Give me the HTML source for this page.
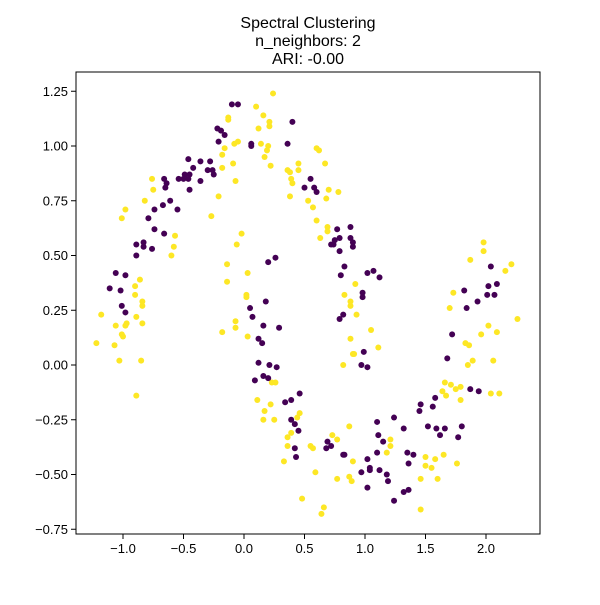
<!DOCTYPE html>
<html><head><meta charset="utf-8"><style>
html,body{margin:0;padding:0;background:#fff;}
svg text{font-family:"Liberation Sans","DejaVu Sans",sans-serif;fill:#000;}
</style></head><body>
<svg id="chart" width="600" height="600" viewBox="0 0 600 600" xmlns="http://www.w3.org/2000/svg">
<rect width="600" height="600" fill="#fff"/>
<g font-size="16" text-anchor="middle">
<text x="308" y="28">Spectral Clustering</text>
<text x="308" y="46">n_neighbors: 2</text>
<text x="308" y="64">ARI: -0.00</text>
</g>
<g id="points"></g>
<g id="axes"></g>
</svg>
<script>
const purpleX=[-0.10,-0.05,-0.22,-0.19,-0.16,-0.21,0.06,0.06,0.40,0.36,-0.46,-0.36,-0.28,-0.42,-0.30,-0.26,-0.25,-0.49,-0.45,-0.54,-0.50,-0.46,-0.36,-0.66,-0.64,-0.65,-0.45,-0.61,-0.67,-0.74,-0.55,-0.79,-0.74,-0.66,-0.89,-0.83,-0.83,-0.76,-0.89,-1.06,-0.98,-1.11,-1.02,0.50,0.20,0.26,0.18,0.55,0.58,0.60,0.77,0.88,0.79,0.88,0.90,0.90,0.75,0.72,0.74,0.79,0.83,0.80,1.02,1.07,1.12,2.04,2.02,2.09,1.82,2.01,2.07,1.93,0.98,0.98,-1.01,-0.98,0.05,0.07,0.16,0.29,0.12,0.15,0.12,0.21,0.27,0.16,0.20,0.09,0.46,0.39,0.34,0.39,0.42,0.45,0.42,0.43,0.79,0.82,1.84,1.72,0.99,0.97,1.02,1.68,1.87,1.94,1.58,1.46,1.45,1.56,1.10,1.24,1.32,1.52,1.59,1.66,1.80,1.62,1.77,1.11,1.15,0.69,0.68,0.72,0.82,0.83,1.10,1.02,1.35,1.40,1.36,0.97,1.04,1.04,1.12,1.18,1.19,1.02,1.32,1.36,1.24];
const purpleY=[1.19,1.19,1.08,1.07,1.05,1.02,1.01,1.00,1.11,1.01,0.94,0.93,0.93,0.90,0.89,0.89,0.87,0.87,0.87,0.85,0.85,0.85,0.84,0.85,0.83,0.81,0.80,0.75,0.73,0.71,0.71,0.67,0.62,0.60,0.55,0.56,0.54,0.53,0.50,0.42,0.41,0.35,0.34,0.81,0.47,0.49,0.29,0.85,0.81,0.79,0.62,0.63,0.58,0.58,0.56,0.54,0.57,0.55,0.55,0.52,0.45,0.41,0.42,0.43,0.40,0.45,0.36,0.37,0.34,0.32,0.32,0.29,0.33,0.31,0.27,0.24,0.26,0.22,0.18,0.17,0.12,0.10,0.01,0.00,-0.01,-0.05,-0.06,-0.07,-0.13,-0.16,-0.17,-0.25,-0.27,-0.30,-0.38,-0.42,0.21,0.23,0.26,0.14,0.06,0.00,-0.01,0.03,-0.11,-0.12,-0.15,-0.18,-0.21,-0.19,-0.26,-0.24,-0.29,-0.28,-0.29,-0.29,-0.28,-0.32,-0.33,-0.32,-0.35,-0.35,-0.38,-0.37,-0.41,-0.41,-0.40,-0.43,-0.40,-0.41,-0.45,-0.49,-0.47,-0.48,-0.48,-0.50,-0.53,-0.56,-0.58,-0.57,-0.62];
const yellowX=[0.24,0.10,0.16,0.21,0.21,-0.13,-0.13,0.12,-0.08,-0.05,-0.16,0.14,0.20,0.19,-0.18,0.17,0.22,-0.09,-0.18,-0.07,0.45,0.45,0.36,0.38,0.39,0.40,0.38,0.53,-0.76,-0.75,-0.82,-0.98,-1.01,-0.21,-0.27,-0.02,-0.06,-0.57,-0.58,-0.60,-0.14,0.03,-0.14,-0.86,-0.90,-0.90,-0.84,0.02,0.02,0.60,0.62,0.67,0.70,0.78,0.68,0.57,0.60,0.69,0.69,0.63,1.98,1.98,1.87,2.21,2.16,0.92,0.83,0.88,1.73,-1.18,-0.84,-0.89,-1.06,-0.98,-0.97,-0.84,-1.01,-1.00,-1.22,-1.07,-1.03,-0.85,-0.89,-0.18,-0.07,-0.07,0.03,0.23,0.26,0.11,0.22,0.17,0.16,0.25,0.46,0.44,0.39,0.36,0.36,0.33,0.48,0.88,0.93,1.05,0.88,0.90,0.91,1.11,0.82,1.70,2.26,2.02,2.09,1.96,1.83,1.86,1.85,1.89,2.06,1.66,1.71,1.79,1.75,1.64,1.67,1.79,2.04,2.11,0.87,0.73,0.77,0.55,0.57,1.21,1.21,1.18,0.90,1.50,1.58,1.65,1.50,1.55,1.76,0.59,0.77,0.87,0.89,1.46,1.60,1.46,0.66,0.64];
const yellowY=[1.24,1.18,1.14,1.11,1.09,1.13,1.12,1.08,1.01,1.02,0.99,1.01,1.00,0.98,0.96,0.95,0.91,0.92,0.90,0.84,0.92,0.89,0.89,0.88,0.85,0.83,0.77,0.75,0.85,0.80,0.75,0.71,0.67,0.77,0.68,0.60,0.55,0.59,0.54,0.50,0.46,0.42,0.38,0.39,0.36,0.32,0.29,0.32,0.31,0.99,0.98,0.92,0.80,0.79,0.76,0.72,0.66,0.63,0.61,0.58,0.56,0.52,0.48,0.46,0.43,0.37,0.32,0.29,0.33,0.23,0.27,0.22,0.18,0.18,0.19,0.19,0.14,0.13,0.10,0.09,0.02,0.02,-0.14,0.15,0.17,0.20,0.13,-0.08,-0.08,-0.16,-0.18,-0.21,-0.25,-0.25,-0.22,-0.24,-0.31,-0.33,-0.37,-0.44,-0.61,0.27,0.23,0.16,0.12,0.05,0.05,0.08,0.00,0.26,0.21,0.18,0.15,0.14,0.10,0.09,0.00,0.02,0.02,-0.08,-0.09,-0.10,-0.11,-0.12,-0.14,-0.16,-0.13,-0.13,-0.28,-0.32,-0.34,-0.37,-0.38,-0.34,-0.37,-0.40,-0.44,-0.42,-0.43,-0.41,-0.46,-0.47,-0.45,-0.49,-0.52,-0.51,-0.53,-0.52,-0.52,-0.66,-0.65,-0.68];
const xTicks=[-1.0,-0.5,0.0,0.5,1.0,1.5,2.0];
const xTickLabels=["−1.0","−0.5","0.0","0.5","1.0","1.5","2.0"];
const yTicks=[-0.75,-0.50,-0.25,0.00,0.25,0.50,0.75,1.00,1.25];
const yTickLabels=["−0.75","−0.50","−0.25","0.00","0.25","0.50","0.75","1.00","1.25"];

const L=76,T=72,R=540,B=534;
function sx(v){return 244+v*121;}
function sy(v){return 365-v*219;}
const NS="http://www.w3.org/2000/svg";
const pts=document.getElementById('points');
function drawSeries(xs,ys,color,name){
  for(let i=0;i<xs.length;i++){
    const c=document.createElementNS(NS,'circle');
    c.setAttribute('cx',sx(xs[i]));c.setAttribute('cy',sy(ys[i]));
    c.setAttribute('r',3);c.setAttribute('fill',color);
    
    
    pts.appendChild(c);
  }
}
drawSeries(yellowX,yellowY,'#fde725','point-cluster-1');
drawSeries(purpleX,purpleY,'#440154','point-cluster-0');
const ax=document.getElementById('axes');
const frame=document.createElementNS(NS,'rect');
frame.setAttribute('x',L);frame.setAttribute('y',T);frame.setAttribute('width',R-L);frame.setAttribute('height',B-T);
frame.setAttribute('fill','none');frame.setAttribute('stroke','#000');frame.setAttribute('stroke-width','1');


ax.appendChild(frame);
xTicks.forEach((v,i)=>{
  const x=sx(v);
  const l=document.createElementNS(NS,'line');
  l.setAttribute('x1',x);l.setAttribute('x2',x);l.setAttribute('y1',B);l.setAttribute('y2',B+5);l.setAttribute('stroke','#000');
  
  
  ax.appendChild(l);
  const t=document.createElementNS(NS,'text');
  t.setAttribute('x',x);t.setAttribute('y',B+19);t.setAttribute('text-anchor','middle');t.setAttribute('font-size','13');
  t.textContent=xTickLabels[i];
  
  
  ax.appendChild(t);
});
yTicks.forEach((v,i)=>{
  const y=sy(v);
  const l=document.createElementNS(NS,'line');
  l.setAttribute('x1',L-5);l.setAttribute('x2',L);l.setAttribute('y1',y);l.setAttribute('y2',y);l.setAttribute('stroke','#000');
  
  
  ax.appendChild(l);
  const t=document.createElementNS(NS,'text');
  t.setAttribute('x',L-8);t.setAttribute('y',y+4.5);t.setAttribute('text-anchor','end');t.setAttribute('font-size','13');
  t.textContent=yTickLabels[i];
  
  
  ax.appendChild(t);
});
</script>
</body></html>
